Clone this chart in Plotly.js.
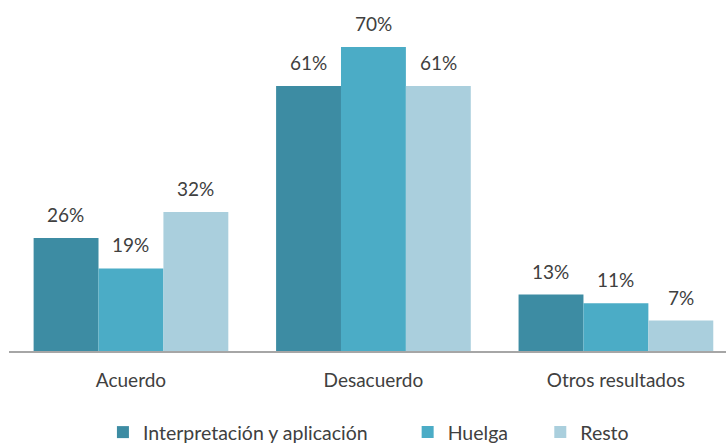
<!DOCTYPE html>
<html>
<head>
<meta charset="utf-8">
<script src="https://cdn.plot.ly/plotly-3.0.1.min.js"></script>
<style>
  html, body { margin: 0; padding: 0; background: #fff; }
  #grafica { width: 726px; height: 448px; }
</style>
</head>
<body>
<div id="grafica"></div>
<script>
// datos (%)
const categorias = ["Acuerdo", "Desacuerdo", "Otros resultados"];
const series = ["Interpretación y aplicación", "Huelga", "Resto"];
const interpretacion = [26, 61, 13];
const huelga = [19, 70, 11];
const resto = [32, 61, 7];

const valores = [interpretacion, huelga, resto];
const colores = ["#3D8CA3", "#4BACC6", "#AACFDD"];
const fuente = "Lato, 'Open Sans', sans-serif";

const trazas = series.map((nombre, i) => ({
    type: "bar",
    name: nombre,
    x: categorias,
    y: valores[i],
    marker: { color: colores[i] },
    legend: i === 0 ? "legend" : "legend" + (i + 1),
    hoverinfo: "skip"
}));

// etiquetas encima de cada barra
let anotaciones = [];
valores.forEach((serie, i) => {
    serie.forEach((v, j) => {
        anotaciones.push({
            x: categorias[j], y: v, text: v + "%",
            showarrow: false, yanchor: "bottom",
            xshift: (i - 1) * 65, yshift: 10,
            font: { family: fuente, size: 19, color: "#404040" }
        });
    });
});

const leyenda = (x) => ({
    x: x, y: -0.232, xanchor: "left", yanchor: "middle",
    orientation: "h", bgcolor: "rgba(0,0,0,0)",
    font: { family: fuente, size: 19.5, color: "#404040" }
});

const layout = {
    width: 726, height: 448,
    margin: { l: 9, r: 0, t: 0, b: 97, autoexpand: false },
    paper_bgcolor: "#fff", plot_bgcolor: "#fff",
    barmode: "group", bargap: 0.197, bargroupgap: 0,
    showlegend: true,
    legend: leyenda(0.131),
    legend2: leyenda(0.556),
    legend3: leyenda(0.741),
    xaxis: {
        type: "category", range: [-0.503, 2.454],
        showline: true, linecolor: "#A6A6A6", linewidth: 1.5,
        showgrid: false, ticks: "", ticklabelstandoff: 12,
        tickfont: { family: fuente, size: 19, color: "#404040" },
        fixedrange: true
    },
    yaxis: {
        range: [0, 80.8], showgrid: false, zeroline: false,
        showticklabels: false, showline: false, fixedrange: true
    },
    annotations: anotaciones,
    font: { family: fuente, color: "#404040" }
};

Plotly.newPlot("grafica", trazas, layout, { displayModeBar: false, staticPlot: true });
</script>
</body>
</html>
